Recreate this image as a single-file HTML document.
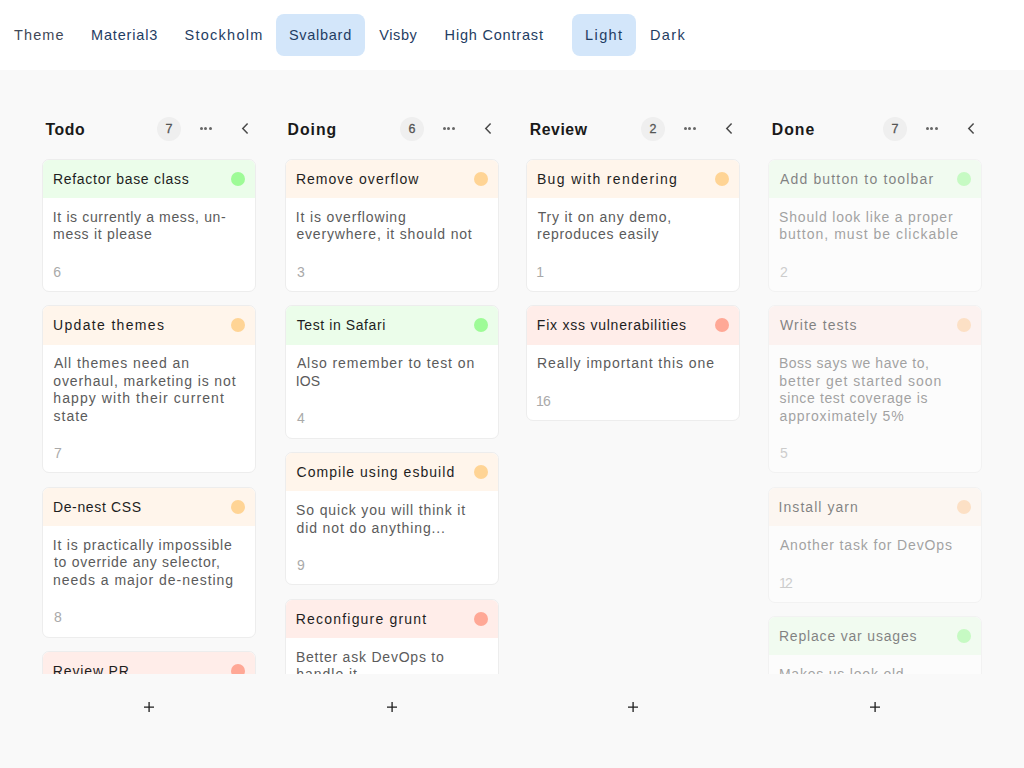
<!DOCTYPE html><html><head><meta charset='utf-8'><style>
*{box-sizing:border-box;margin:0;padding:0}
html,body{width:1024px;height:768px;overflow:hidden;background:#f9f9f9;font-family:"Liberation Sans",sans-serif}
.tb{position:absolute;left:0;top:0;width:1024px;height:70px;background:#fff}
.tb .it{position:absolute;top:14px;height:42px;line-height:42px;font-size:14.5px;color:#1f3d63;white-space:nowrap}
.tb .lbl{color:#3f4857}
.tb .selbg{position:absolute;top:14.2px;height:41.6px;border-radius:8px;background:#d3e6fa}
.colh{position:absolute;top:116px;height:25px}
.colh .t{position:absolute;left:3px;top:.5px;line-height:25px;font-size:15.8px;font-weight:bold;color:#1a1a1a;white-space:nowrap}
.colh .c{position:absolute;left:114.9px;top:.7px;width:24.2px;height:24.2px;border-radius:50%;background:#efefef;color:#555;font-size:12.5px;font-weight:normal;-webkit-text-stroke:.3px #555;line-height:25.5px;text-align:center}
.colh .m{position:absolute;left:157.5px;top:11px;width:12px;height:3px}
.colh .m i{position:absolute;top:0;width:3px;height:3px;border-radius:50%;background:#666}
.colh .a{position:absolute;left:199px;top:7px;width:8px;height:11px}
.clip{position:absolute;top:0;height:674px;overflow:hidden}
.card{position:absolute;left:0;width:214px;background:#fff;border:1px solid #ededed;border-radius:7px;overflow:hidden}
.hd{height:38.2px;position:relative}
.hd .tt{position:absolute;left:10.5px;top:1px;line-height:37.9px;font-size:14px;color:#1e1e1e;white-space:nowrap}
.hd .dot{position:absolute;right:10.5px;top:12px;width:14px;height:14px;border-radius:50%}
.bd{padding:10.9px 10.5px 0 11px}
.ds{font-size:14px;line-height:17.4px;color:#5b5b5b;white-space:nowrap}
.ds div{height:17.4px}
.nm{margin-top:20.15px;font-size:14px;line-height:17.4px;color:#a9a9a9;letter-spacing:-.6px}
.green .hd{background:#ebfdea}.green .dot{background:#9efb97}
.orange .hd{background:#fff5eb}.orange .dot{background:#ffd495}
.red .hd{background:#ffede9}.red .dot{background:#ffa896}
.done .card{opacity:.55}.done .red .dot,.done .orange .dot{background:#ffcc9c}
.plus{position:absolute;top:702.2px;width:10.2px;height:10.2px}
</style></head><body><div class='tb'><div class='selbg' style='left:276px;width:89px'></div><div class='selbg' style='left:571.6px;width:64.6px'></div><div class='it lbl' style='left:13.700000000000001px'><span id='tb0' style='letter-spacing:1.169px;margin-left:0.19px'>Theme</span></div><div class='it ' style='left:91.60000000000001px'><span id='tb1' style='letter-spacing:0.838px;margin-left:-0.64px'>Material3</span></div><div class='it ' style='left:185.0px'><span id='tb2' style='letter-spacing:1.253px;margin-left:-0.47px'>Stockholm</span></div><div class='it ' style='left:289.4px'><span id='tb3' style='letter-spacing:0.727px;margin-left:-0.53px'>Svalbard</span></div><div class='it ' style='left:378.9px'><span id='tb4' style='letter-spacing:0.612px;margin-left:0.34px'>Visby</span></div><div class='it ' style='left:445.2px'><span id='tb5' style='letter-spacing:0.804px;margin-left:-0.58px'>High Contrast</span></div><div class='it ' style='left:585.6999999999999px'><span id='tb6' style='letter-spacing:1.400px;margin-left:-0.64px'>Light</span></div><div class='it ' style='left:650.4px'><span id='tb7' style='letter-spacing:1.388px;margin-left:-0.52px'>Dark</span></div></div><div class='colh' style='left:42px;width:214px'><span class='t'><span id='h0' style='letter-spacing:0.576px;margin-left:0.55px'>Todo</span></span><span class='c'>7</span><span class='m'><i style='left:0'></i><i style='left:4.5px'></i><i style='left:9px'></i></span><svg class='a' viewBox='0 0 8 11'><path d='M6.6 0.6 L1.8 5.5 L6.6 10.4' fill='none' stroke='#4a4a4a' stroke-width='1.5'/></svg></div><div class='clip' style='left:42px;width:215px'><div class='card green' style='top:158.70px;height:133.30px'><div class='hd'><span class='tt'><span id='c00t' style='letter-spacing:0.715px;margin-left:-0.60px'>Refactor base class</span></span><span class='dot'></span></div><div class='bd'><div class='ds'><div><span id='c00d0' style='letter-spacing:0.633px;margin-left:-1.20px'>It is currently a mess, un-</span></div><div><span id='c00d1' style='letter-spacing:0.720px;margin-left:-1.00px'>mess it please</span></div></div><div class='nm'><span id='n00' style='letter-spacing:6.376px;margin-left:-0.74px'>6</span></div></div></div><div class='card orange' style='top:305.40px;height:168.10px'><div class='hd'><span class='tt'><span id='c01t' style='letter-spacing:1.332px;margin-left:-0.47px'>Update themes</span></span><span class='dot'></span></div><div class='bd'><div class='ds'><div><span id='c01d0' style='letter-spacing:0.896px;margin-left:-0.13px'>All themes need an</span></div><div><span id='c01d1' style='letter-spacing:0.881px;margin-left:-0.78px'>overhaul, marketing is not</span></div><div><span id='c01d2' style='letter-spacing:1.086px;margin-left:-0.73px'>happy with their current</span></div><div><span id='c01d3' style='letter-spacing:0.965px;margin-left:-0.45px'>state</span></div></div><div class='nm'>7</div></div></div><div class='card orange' style='top:486.90px;height:150.70px'><div class='hd'><span class='tt'><span id='c02t' style='letter-spacing:0.653px;margin-left:-0.61px'>De-nest CSS</span></span><span class='dot'></span></div><div class='bd'><div class='ds'><div><span id='c02d0' style='letter-spacing:0.778px;margin-left:-1.20px'>It is practically impossible</span></div><div><span id='c02d1' style='letter-spacing:0.728px;margin-left:-0.11px'>to override any selector,</span></div><div><span id='c02d2' style='letter-spacing:0.962px;margin-left:-1.00px'>needs a major de-nesting</span></div></div><div class='nm'>8</div></div></div><div class='card red' style='top:651.00px;height:115.90px'><div class='hd'><span class='tt'><span id='c03t' style='letter-spacing:0.856px;margin-left:-0.69px'>Review PR</span></span><span class='dot'></span></div><div class='bd'><div class='ds'><div><span id='c03d0' style='letter-spacing:0.550px'>Needs to be done</span></div></div><div class='nm'>10</div></div></div></div><svg class='plus' style='left:143.94px' viewBox='0 0 10.2 10.2'><path d='M5.1 0V10.2M0 5.1H10.2' stroke='#1e1e1e' stroke-width='1.3'/></svg><div class='colh' style='left:285px;width:214px'><span class='t'><span id='h1' style='letter-spacing:1.000px;margin-left:-0.49px'>Doing</span></span><span class='c'>6</span><span class='m'><i style='left:0'></i><i style='left:4.5px'></i><i style='left:9px'></i></span><svg class='a' viewBox='0 0 8 11'><path d='M6.6 0.6 L1.8 5.5 L6.6 10.4' fill='none' stroke='#4a4a4a' stroke-width='1.5'/></svg></div><div class='clip' style='left:285px;width:215px'><div class='card orange' style='top:158.70px;height:133.30px'><div class='hd'><span class='tt'><span id='c10t' style='letter-spacing:1.021px;margin-left:-0.61px'>Remove overflow</span></span><span class='dot'></span></div><div class='bd'><div class='ds'><div><span id='c10d0' style='letter-spacing:0.842px;margin-left:-1.20px'>It is overflowing</span></div><div><span id='c10d1' style='letter-spacing:0.822px;margin-left:-0.63px'>everywhere, it should not</span></div></div><div class='nm'>3</div></div></div><div class='card green' style='top:305.40px;height:133.30px'><div class='hd'><span class='tt'><span id='c11t' style='letter-spacing:0.592px;margin-left:0.20px'>Test in Safari</span></span><span class='dot'></span></div><div class='bd'><div class='ds'><div><span id='c11d0' style='letter-spacing:0.909px;margin-left:-0.13px'>Also remember to test on</span></div><div><span id='c11d1' style='letter-spacing:0.137px;margin-left:-1.20px'>IOS</span></div></div><div class='nm'>4</div></div></div><div class='card orange' style='top:452.10px;height:133.30px'><div class='hd'><span class='tt'><span id='c12t' style='letter-spacing:1.035px'>Compile using esbuild</span></span><span class='dot'></span></div><div class='bd'><div class='ds'><div><span id='c12d0' style='letter-spacing:0.849px;margin-left:-0.90px'>So quick you will think it</span></div><div><span id='c12d1' style='letter-spacing:0.881px;margin-left:-0.50px'>did not do anything...</span></div></div><div class='nm'>9</div></div></div><div class='card red' style='top:598.80px;height:133.30px'><div class='hd'><span class='tt'><span id='c13t' style='letter-spacing:1.194px;margin-left:-0.69px'>Reconfigure grunt</span></span><span class='dot'></span></div><div class='bd'><div class='ds'><div><span id='c13d0' style='letter-spacing:0.783px;margin-left:-1.12px'>Better ask DevOps to</span></div><div><span id='c13d1' style='letter-spacing:0.970px;margin-left:-0.73px'>handle it</span></div></div><div class='nm'>11</div></div></div></div><svg class='plus' style='left:386.94px' viewBox='0 0 10.2 10.2'><path d='M5.1 0V10.2M0 5.1H10.2' stroke='#1e1e1e' stroke-width='1.3'/></svg><div class='colh' style='left:526px;width:214px'><span class='t'><span id='h2' style='letter-spacing:0.578px;margin-left:0.69px'>Review</span></span><span class='c'>2</span><span class='m'><i style='left:0'></i><i style='left:4.5px'></i><i style='left:9px'></i></span><svg class='a' viewBox='0 0 8 11'><path d='M6.6 0.6 L1.8 5.5 L6.6 10.4' fill='none' stroke='#4a4a4a' stroke-width='1.5'/></svg></div><div class='clip' style='left:526px;width:215px'><div class='card orange' style='top:158.70px;height:133.30px'><div class='hd'><span class='tt'><span id='c20t' style='letter-spacing:1.369px;margin-left:-0.61px'>Bug with rendering</span></span><span class='dot'></span></div><div class='bd'><div class='ds'><div><span id='c20d0' style='letter-spacing:0.787px;margin-left:-0.29px'>Try it on any demo,</span></div><div><span id='c20d1' style='letter-spacing:0.730px;margin-left:-1.00px'>reproduces easily</span></div></div><div class='nm'><span id='n20' style='letter-spacing:-5.731px;margin-left:-1.78px'>1</span></div></div></div><div class='card red' style='top:305.40px;height:115.90px'><div class='hd'><span class='tt'><span id='c21t' style='letter-spacing:0.768px;margin-left:-0.69px'>Fix xss vulnerabilities</span></span><span class='dot'></span></div><div class='bd'><div class='ds'><div><span id='c21d0' style='letter-spacing:0.966px;margin-left:-1.12px'>Really important this one</span></div></div><div class='nm'><span id='n21' style='letter-spacing:-0.900px;margin-left:-1.90px'>16</span></div></div></div></div><svg class='plus' style='left:627.94px' viewBox='0 0 10.2 10.2'><path d='M5.1 0V10.2M0 5.1H10.2' stroke='#1e1e1e' stroke-width='1.3'/></svg><div class='colh' style='left:768px;width:214px'><span class='t'><span id='h3' style='letter-spacing:1.036px;margin-left:0.69px'>Done</span></span><span class='c'>7</span><span class='m'><i style='left:0'></i><i style='left:4.5px'></i><i style='left:9px'></i></span><svg class='a' viewBox='0 0 8 11'><path d='M6.6 0.6 L1.8 5.5 L6.6 10.4' fill='none' stroke='#4a4a4a' stroke-width='1.5'/></svg></div><div class='clip done' style='left:768px;width:215px'><div class='card green' style='top:158.70px;height:133.30px'><div class='hd'><span class='tt'><span id='c30t' style='letter-spacing:1.157px;margin-left:0.50px'>Add button to toolbar</span></span><span class='dot'></span></div><div class='bd'><div class='ds'><div><span id='c30d0' style='letter-spacing:0.809px;margin-left:-0.90px'>Should look like a proper</span></div><div><span id='c30d1' style='letter-spacing:1.031px;margin-left:-0.79px'>button, must be clickable</span></div></div><div class='nm'>2</div></div></div><div class='card red' style='top:305.40px;height:168.10px'><div class='hd'><span class='tt'><span id='c31t' style='letter-spacing:1.071px;margin-left:0.46px'>Write tests</span></span><span class='dot'></span></div><div class='bd'><div class='ds'><div><span id='c31d0' style='letter-spacing:0.535px;margin-left:-1.12px'>Boss says we have to,</span></div><div><span id='c31d1' style='letter-spacing:1.002px;margin-left:-0.79px'>better get started soon</span></div><div><span id='c31d2' style='letter-spacing:0.631px;margin-left:-0.45px'>since test coverage is</span></div><div><span id='c31d3' style='letter-spacing:0.857px;margin-left:-0.50px'>approximately 5%</span></div></div><div class='nm'>5</div></div></div><div class='card orange' style='top:486.90px;height:115.90px'><div class='hd'><span class='tt'><span id='c32t' style='letter-spacing:1.052px;margin-left:-0.94px'>Install yarn</span></span><span class='dot'></span></div><div class='bd'><div class='ds'><div><span id='c32d0' style='letter-spacing:0.853px;margin-left:-0.13px'>Another task for DevOps</span></div></div><div class='nm'><span id='n32' style='letter-spacing:-1.836px;margin-left:-0.90px'>12</span></div></div></div><div class='card green' style='top:616.20px;height:115.90px'><div class='hd'><span class='tt'><span id='c33t' style='letter-spacing:0.816px;margin-left:-0.60px'>Replace var usages</span></span><span class='dot'></span></div><div class='bd'><div class='ds'><div><span id='c33d0' style='letter-spacing:0.794px;margin-left:-1.12px'>Makes us look old</span></div></div><div class='nm'>13</div></div></div></div><svg class='plus' style='left:869.94px' viewBox='0 0 10.2 10.2'><path d='M5.1 0V10.2M0 5.1H10.2' stroke='#1e1e1e' stroke-width='1.3'/></svg></body></html>
